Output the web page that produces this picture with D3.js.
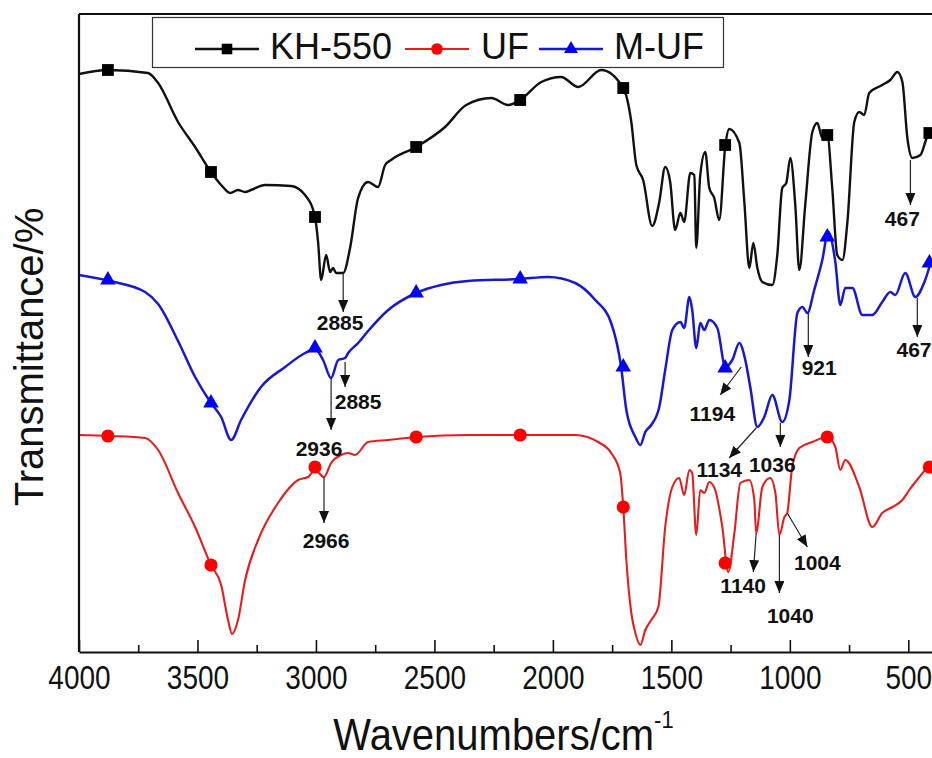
<!DOCTYPE html>
<html>
<head>
<meta charset="utf-8">
<script src="https://cdn.jsdelivr.net/npm/d3@7"></script>
<style>
  body { margin: 0; background: #fff; }
  svg { display: block; font-family: 'Liberation Sans', Arial, sans-serif; }
</style>
</head>
<body>
<div id="chart"></div>
<script>
// FTIR spectra, [wavenumber, transmittance (offset, arb.)]
const kh550 = [
  [4000, 115.6], [3878, 116.4], [3709, 115.8], [3666, 113.8], [3582, 106], [3510, 101], [3443, 96],
  [3400, 93.4], [3362, 91.8], [3329, 92.4], [3299, 92], [3274, 92.4], [3215, 93.4], [3105, 93.2],
  [3046, 91.4], [3004, 87], [2991, 82], [2978, 74.4], [2957, 79.4], [2940, 76], [2928, 76.8],
  [2915, 75.8], [2885, 75.8], [2856, 80.8], [2822, 90.8], [2780, 94], [2738, 93], [2708, 97.4],
  [2683, 98.4], [2577, 101], [2455, 105], [2366, 109.4], [2260, 110.8], [2189, 109.4], [2138, 110.4],
  [2049, 114], [1965, 115], [1893, 113], [1796, 116.4], [1703, 112.8], [1669, 106], [1648, 97.4],
  [1619, 94.4], [1581, 85.2], [1551, 90], [1526, 97], [1505, 94], [1484, 84.4], [1462, 87.8],
  [1446, 86], [1420, 95.8], [1403, 95.4], [1395, 80.8], [1378, 95.4], [1357, 100], [1340, 92.8],
  [1319, 90.8], [1298, 86.4], [1272, 101.4], [1256, 104.6], [1213, 101.8], [1192, 90], [1171, 76.8],
  [1154, 81.8], [1137, 76.8], [1116, 74], [1074, 73.4], [1053, 79.4], [1032, 92.8], [1015, 93.8],
  [998, 98.8], [977, 89.4], [960, 76.4], [935, 89.4], [905, 104], [884, 105.8], [863, 102.8],
  [842, 103.4], [821, 92.8], [800, 79.4], [778, 78.4], [757, 86], [728, 106], [707, 108],
  [686, 107.4], [665, 111.8], [610, 113.4], [576, 114.4], [546, 116], [525, 114], [504, 102.8],
  [483, 98.8], [449, 99.4], [420, 103], [400, 103.8]
];

const muf = [
  [4000, 75.4], [3869, 74.2], [3721, 72], [3666, 69.6], [3582, 62.2], [3510, 55], [3443, 49.8],
  [3400, 47], [3358, 42.4], [3316, 46.4], [3232, 53], [3130, 57], [3046, 59.8], [3004, 60.6],
  [2970, 58.4], [2936, 54.8], [2906, 58.4], [2877, 58.8], [2864, 59.8], [2822, 61.8], [2780, 64.2],
  [2695, 68.4], [2577, 71.8], [2472, 73.4], [2358, 74.2], [2138, 74.6], [2020, 75], [1906, 73.8],
  [1821, 70.4], [1754, 65.8], [1712, 57], [1690, 48.4], [1652, 43], [1631, 41.4], [1610, 44],
  [1585, 45.4], [1551, 49], [1526, 56.4], [1496, 64.4], [1462, 66], [1446, 64.8], [1424, 71],
  [1412, 68.4], [1395, 60.8], [1378, 65.8], [1361, 64.4], [1340, 66.4], [1306, 64.8], [1272, 57],
  [1243, 58.4], [1213, 61.8], [1188, 58.4], [1167, 53], [1137, 45], [1108, 47], [1074, 51.4],
  [1032, 46], [1002, 50.4], [968, 67.8], [947, 69], [926, 67.8], [897, 72.4], [863, 78.4],
  [838, 84], [808, 78], [787, 69.4], [766, 72.8], [736, 72.8], [694, 67.4], [652, 67.4],
  [610, 70], [576, 72], [555, 71.4], [513, 75.8], [470, 71], [432, 74], [400, 78.8]
];

const uf = [
  [4000, 43.4], [3869, 43.2], [3721, 42.8], [3666, 40.4], [3582, 31.8], [3510, 25], [3443, 17.4],
  [3400, 13.4], [3371, 6.4], [3354, 3.6], [3329, 6.4], [3299, 14.4], [3244, 22.4], [3160, 29.8],
  [3075, 34.4], [3033, 35], [3004, 36.4], [2966, 35], [2936, 37.8], [2894, 39.4], [2864, 39.8],
  [2835, 39.4], [2780, 42], [2695, 42.4], [2577, 43], [2358, 43.4], [2138, 43.4], [1906, 43.4],
  [1809, 42], [1754, 39.8], [1716, 35.8], [1703, 29], [1690, 18.4], [1669, 7.8], [1652, 3.8],
  [1631, 1.4], [1610, 4.4], [1585, 6.4], [1555, 9], [1526, 25], [1496, 33], [1467, 34.8],
  [1446, 31.4], [1424, 36.4], [1412, 35.8], [1395, 23.4], [1378, 32.4], [1361, 31.8], [1340, 34],
  [1315, 32.4], [1285, 25], [1260, 16], [1234, 23.8], [1209, 33.8], [1171, 34.4], [1150, 30.4],
  [1142, 23.8], [1116, 33], [1083, 34.8], [1061, 31.8], [1044, 23.4], [1023, 27], [1011, 27.8],
  [990, 37], [960, 40.8], [905, 42], [842, 43], [808, 41], [787, 36.4], [766, 38.4], [707, 33],
  [652, 25], [610, 27.8], [567, 29], [525, 30.4], [496, 32.4], [453, 35], [400, 38]
];

// symbol positions (Origin draws one every N points)
const markerWn = [3878, 3443, 3004, 2577, 2138, 1703, 1273, 842, 411];
const kh550Markers = [116.4, 96, 87, 101, 110.4, 112.8, 101.4, 103.4, 103.8];
const mufMarkers = [74.4, 49.8, 60.8, 71.8, 74.6, 57, 56.8, 83, 77.8];
const ufMarkers = [43.2, 17.4, 37, 43, 43.4, 29, 17.8, 43, 37];

const xTicks = [4000, 3500, 3000, 2500, 2000, 1500, 1000, 500];
const xMinorTicks = [3750, 3250, 2750, 2250, 1750, 1250, 750];

// peak labels: arrow from -> to, text anchor
const peaks = [
  { label: '2885', from: [2885, 75.8], to: [2885, 68], text: [2898, 64.4] },
  { label: '2885', from: [2877, 58], to: [2877, 53], text: [2822, 48.6] },
  { label: '2936', from: [2936, 54.8], to: [2936, 44.4], text: [2987, 39.2] },
  { label: '2966', from: [2966, 35], to: [2966, 25.8], text: [2957, 20.8] },
  { label: '1194', from: [1205, 57], to: [1294, 51.4], text: [1327, 46.2] },
  { label: '1134', from: [1142, 44.8], to: [1256, 38.8], text: [1298, 35] },
  { label: '1036', from: [1040, 45.8], to: [1040, 41], text: [1074, 36] },
  { label: '921', from: [922, 67.8], to: [922, 59], text: [876, 55.4] },
  { label: '467', from: [491, 98.4], to: [491, 89.4], text: [525, 85.2] },
  { label: '467', from: [462, 70.8], to: [462, 63], text: [476, 59] },
  { label: '1140', from: [1142, 23.8], to: [1154, 16], text: [1197, 11.8] },
  { label: '1040', from: [1044, 23.4], to: [1044, 11.8], text: [998, 5.8] },
  { label: '1004', from: [1011, 27.8], to: [926, 21], text: [884, 16.4] }
];

const width = 932;
const height = 758;
const margin = { top: 14, right: 0, bottom: 106, left: 79 };

const svg = d3.select('#chart').append('svg')
  .attr('width', width)
  .attr('height', height);

const x = d3.scaleLinear()
  .domain([4000, 400])
  .range([margin.left, width - margin.right]);

const y = d3.scaleLinear()
  .domain([0, 127.6])
  .range([height - margin.bottom, margin.top]);

svg.append('clipPath')
  .attr('id', 'plot-clip')
  .append('rect')
  .attr('x', margin.left)
  .attr('y', margin.top)
  .attr('width', width - margin.left - margin.right)
  .attr('height', height - margin.top - margin.bottom);

const series = [
  { name: 'KH-550', data: kh550, marks: kh550Markers, color: '#000000', line: '#111111', width: 2.4, symbol: d3.symbolSquare, size: 140 },
  { name: 'UF', data: uf, marks: ufMarkers, color: '#ff0000', line: '#e41e1e', width: 2.1, symbol: d3.symbolCircle, size: 135 },
  { name: 'M-UF', data: muf, marks: mufMarkers, color: '#0000ff', line: '#1818d0', width: 2.5, symbol: d3.symbolTriangle, size: 105 }
];

const line = d3.line()
  .curve(d3.curveMonotoneX)
  .x(d => x(d[0]))
  .y(d => y(d[1]));

const plot = svg.append('g').attr('clip-path', 'url(#plot-clip)');

series.forEach(s => {
  plot.append('path')
    .datum(s.data)
    .attr('fill', 'none')
    .attr('stroke', s.line)
    .attr('stroke-width', s.width)
    .attr('stroke-linejoin', 'round')
    .attr('d', line);
});

series.forEach(s => {
  plot.selectAll(null)
    .data(markerWn.map((w, i) => [w, s.marks[i]]))
    .join('path')
    .attr('transform', d => `translate(${x(d[0])},${y(d[1])})`)
    .attr('fill', s.color)
    .attr('d', d3.symbol(s.symbol, s.size));
});

// Axes: ticks point inward
const xAxisG = svg.append('g')
  .attr('transform', `translate(0,${height - margin.bottom})`)
  .call(d3.axisBottom(x)
    .tickValues(xTicks)
    .tickFormat(d3.format('d'))
    .tickSize(-12)
    .tickSizeOuter(0));

svg.append('g')
  .attr('transform', `translate(0,${height - margin.bottom})`)
  .call(d3.axisBottom(x).tickValues(xMinorTicks).tickSize(-7).tickSizeOuter(0).tickFormat(''))
  .select('.domain').remove();

xAxisG.select('.domain').attr('stroke-width', 2.2).attr('stroke', '#111');
svg.selectAll('.tick line').attr('stroke-width', 1.6).attr('stroke', '#111');

xAxisG.selectAll('.tick text')
  .attr('font-size', 28)
  .attr('fill', '#111')
  .attr('y', 0)
  .attr('dy', 0)
  .attr('transform', 'translate(0,37) scale(1,1.18)');

// frame: left and top
svg.append('line')
  .attr('x1', x(4000)).attr('x2', x(4000))
  .attr('y1', y(127.6)).attr('y2', y(0))
  .attr('stroke', '#111').attr('stroke-width', 2.2);

svg.append('line')
  .attr('x1', x(4000)).attr('x2', x(400))
  .attr('y1', y(127.6)).attr('y2', y(127.6))
  .attr('stroke', '#111').attr('stroke-width', 2.2);

// Axis titles
const xTitle = svg.append('text')
  .attr('transform', `translate(${(margin.left + width) / 2 - 2},750) scale(1,1.12)`)
  .attr('text-anchor', 'middle')
  .attr('font-size', 40)
  .attr('fill', '#111');
xTitle.append('tspan').text('Wavenumbers/cm');
xTitle.append('tspan').attr('font-size', 22).attr('dy', -20).text('-1');

svg.append('text')
  .attr('transform', 'translate(43,357) rotate(-90)')
  .attr('text-anchor', 'middle')
  .attr('font-size', 40)
  .attr('fill', '#111')
  .text('Transmittance/%');

// Peak arrows
svg.append('defs').append('marker')
  .attr('id', 'arrow')
  .attr('viewBox', '0 0 12 10')
  .attr('refX', 12)
  .attr('refY', 5)
  .attr('markerWidth', 12)
  .attr('markerHeight', 10)
  .attr('markerUnits', 'userSpaceOnUse')
  .attr('orient', 'auto')
  .append('path')
  .attr('d', 'M0,0L12,5L0,10Z')
  .attr('fill', '#111');

const peakG = svg.append('g');

peakG.selectAll('line')
  .data(peaks)
  .join('line')
  .attr('x1', d => x(d.from[0]))
  .attr('y1', d => y(d.from[1]))
  .attr('x2', d => x(d.to[0]))
  .attr('y2', d => y(d.to[1]))
  .attr('stroke', '#222')
  .attr('stroke-width', 1.2)
  .attr('marker-end', 'url(#arrow)');

peakG.selectAll('text')
  .data(peaks)
  .join('text')
  .attr('x', d => x(d.text[0]))
  .attr('y', d => y(d.text[1]))
  .attr('text-anchor', 'middle')
  .attr('font-size', 21)
  .attr('font-weight', 'bold')
  .attr('fill', '#111')
  .text(d => d.label);

// Legend
const legend = svg.append('g');

legend.append('rect')
  .attr('x', 152.5)
  .attr('y', 17.5)
  .attr('width', 571)
  .attr('height', 50)
  .attr('fill', '#fff')
  .attr('stroke', '#333')
  .attr('stroke-width', 1.2);

const legendX = [195, 405, 539];
const legendTextX = [270, 481, 614];

series.forEach((s, i) => {
  const g = legend.append('g');
  g.append('line')
    .attr('x1', legendX[i]).attr('x2', legendX[i] + 64)
    .attr('y1', 49).attr('y2', 49)
    .attr('stroke', s.line)
    .attr('stroke-width', s.width);
  g.append('path')
    .attr('transform', `translate(${legendX[i] + 32},49)`)
    .attr('fill', s.color)
    .attr('d', d3.symbol(s.symbol, s.size * 0.8));
  g.append('text')
    .attr('x', legendTextX[i])
    .attr('y', 59)
    .attr('font-size', 36)
    .attr('fill', '#111')
    .text(s.name);
});
</script>
</body>
</html>
